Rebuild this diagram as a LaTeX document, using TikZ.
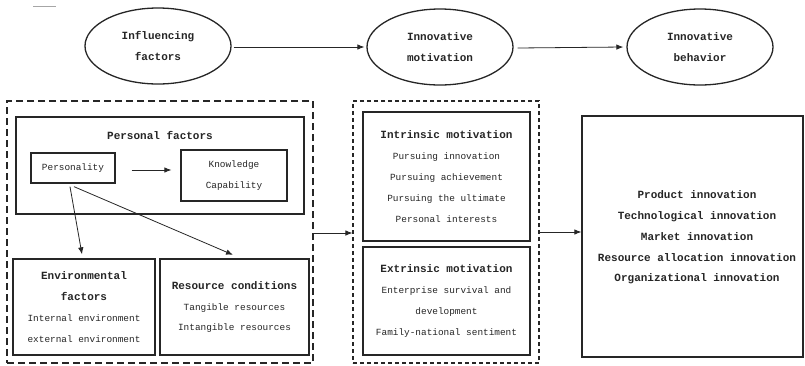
\documentclass[tikz,border=0pt]{standalone}
\usepackage{fontspec}
\setmainfont{Liberation Mono}
\usetikzlibrary{arrows.meta,shapes.geometric}
\newcommand\hdfont{\fontsize{11}{20.8}\selectfont\bfseries}
\newcommand\bdfont{\fontsize{9.4}{20.8}\selectfont}
\begin{document}
\begin{tikzpicture}[x=1pt,y=-1pt,
  lin/.style={draw=black!85, line width=1.3pt},
  ell/.style={lin, ellipse, minimum width=146pt, minimum height=76pt, inner sep=0pt, align=center, font=\hdfont, text=black!85},
  box/.style={lin, rectangle, inner sep=0pt, align=center, font=\bdfont, text=black!85},
  dboxa/.style={draw=black!85, line width=1.2pt, dash pattern=on 7pt off 4pt, inner sep=0pt},
  dboxb/.style={draw=black!85, line width=1.2pt, dash pattern=on 4pt off 3pt, inner sep=0pt},
  arr/.style={draw=black!85, line width=0.8pt, -{Latex[length=7pt,width=5.5pt]}},
  txt/.style={align=center, font=\bdfont, text=black!85, inner sep=0pt}
]
\useasboundingbox (0,0) rectangle (805,365);
\fill[white] (0,0) rectangle (805,365);

% stray short line top left
\coordinate (sa) at (33,6);
\coordinate (sb) at (56,6);
\draw[black!35, line width=0.8pt] (sa) -- (sb);

% ellipses
\node[ell] (e1) at (158,46) {Influencing\\factors};
\node[ell] (e2) at (440,47) {Innovative\\motivation};
\node[ell] (e3) at (700,47) {Innovative\\behavior};
\draw[arr] ([shift={(2,1)}]e1.east) -- ([shift={(-2,0)}]e2.west);
\draw[arr] ([shift={(4,1)}]e2.east) -- ([shift={(-3,0)}]e3.west);

% dashed group boxes
\node[dboxa, minimum width=306pt, minimum height=262pt] (d1) at (160,232) {};
\node[dboxb, minimum width=186pt, minimum height=262pt] (d2) at (446,232) {};

% personal factors
\node[box, minimum width=288pt, minimum height=97pt] (pf) at (160,165.5) {};
\node[txt, font=\hdfont] (pft) at (160,135) {Personal factors};
\node[box, minimum width=84pt, minimum height=30pt] (pers) at (73,168) {Personality};
\node[box, minimum width=106pt, minimum height=51pt] (know) at (234,175.5) {Knowledge\\Capability};
\draw[arr] ([shift={(16,2)}]pers.east) -- ([shift={(-9,-5.5)}]know.west);

% environmental and resource
\node[box, minimum width=142pt, minimum height=96pt] (env) at (84,307)
  {{\hdfont Environmental}\\{\hdfont factors}\\Internal environment\\external environment};
\node[box, minimum width=149pt, minimum height=96pt] (res) at (234.5,307)
  {{\hdfont Resource conditions}\\Tangible resources\\Intangible resources};
\draw[arr] ([shift={(-3,3)}]pers.south) -- ([shift={(-2,-4)}]env.north);
\draw[arr] ([shift={(1,3)}]pers.south) -- ([shift={(-1.5,-3.5)}]res.north);

% motivation
\node[box, minimum width=167pt, minimum height=129pt] (intr) at (446.5,176.5)
  {{\hdfont Intrinsic motivation}\\Pursuing innovation\\Pursuing achievement\\Pursuing the ultimate\\Personal interests};
\node[box, minimum width=167pt, minimum height=108pt] (extr) at (446.5,301)
  {{\hdfont Extrinsic motivation}\\Enterprise survival and\\development\\Family-national sentiment};

% behavior
\node[box, minimum width=221pt, minimum height=241pt] (rb) at (692.5,236.5) {};
\node[txt, font=\hdfont] (rbt) at (697,237.5)
  {Product innovation\\Technological innovation\\Market innovation\\Resource allocation innovation\\Organizational innovation};

% connectors between groups
\draw[arr] ([shift={(0,1)}]d1.east) -- ([shift={(0,1)}]d2.west);
\draw[arr] (d2.east) -- (d2.east -| rb.west);
\end{tikzpicture}
\end{document}
